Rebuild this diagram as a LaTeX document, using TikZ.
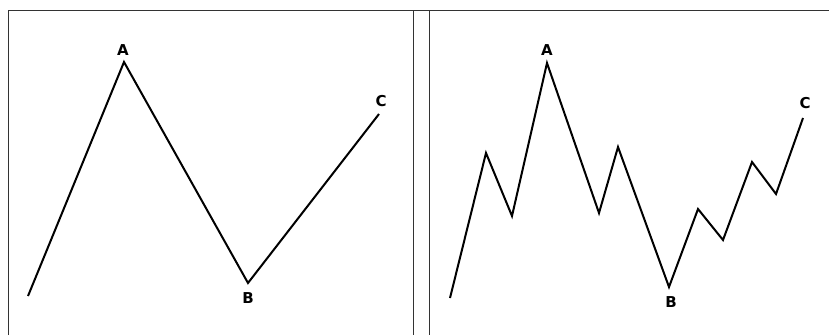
\documentclass[tikz,border=0pt]{standalone}
\usepackage{fontspec}
\setsansfont{DejaVu Sans}
\begin{document}
\begin{tikzpicture}[x=1pt,y=-1pt,
  wave/.style={line width=2pt,line join=miter,black},
  frame/.style={line width=1pt,black!80},
  lbl/.style={font=\sffamily\bfseries\fontsize{15}{15}\selectfont,inner sep=0pt}]
\useasboundingbox (0,0) rectangle (829,335);
% frames
\draw[frame] (8,335) -- (8,10) -- (829,10);
\draw[frame] (413,10) -- (413,335);
\draw[frame] (429,10) -- (429,335);
% left panel
\coordinate (l0) at (28,296);
\coordinate (lA) at (124,62);
\coordinate (lB) at (248,283);
\coordinate (lC) at (379,114);
\draw[wave] (l0) -- (lA) -- (lB) -- (lC);
\node[lbl] (tlA) at (123,50) {A};
\node[lbl] (tlB) at (248,298) {B};
\node[lbl] (tlC) at (381,101) {C};
% right panel
\coordinate (r0) at (450,298);
\coordinate (r1) at (486,153);
\coordinate (r2) at (512,216);
\coordinate (rA) at (547,63);
\coordinate (r4) at (599,213);
\coordinate (r5) at (618,147);
\coordinate (rB) at (669,287);
\coordinate (r7) at (698,209);
\coordinate (r8) at (723,240);
\coordinate (r9) at (752,162);
\coordinate (r10) at (776,194);
\coordinate (rC) at (803,118);
\draw[wave] (r0) -- (r1) -- (r2) -- (rA) -- (r4) -- (r5) -- (rB) -- (r7) -- (r8) -- (r9) -- (r10) -- (rC);
\node[lbl] (trA) at (547,50) {A};
\node[lbl] (trB) at (671,302) {B};
\node[lbl] (trC) at (805,103) {C};
\end{tikzpicture}
\end{document}
